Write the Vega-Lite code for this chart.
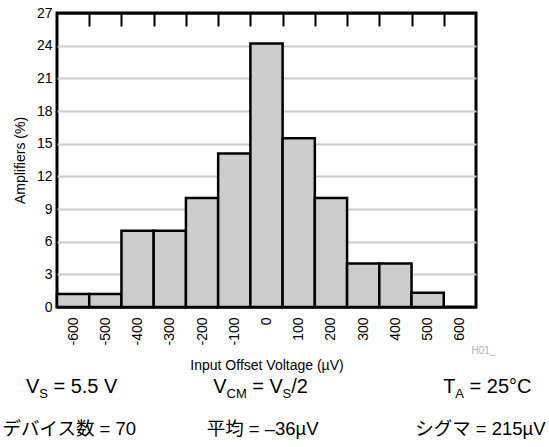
{
  "$schema": "https://vega.github.io/schema/vega-lite/v6.json",
  "width": 419,
  "height": 294,
  "autosize": {"type": "none"},
  "padding": {"left": 57, "top": 13, "right": 73, "bottom": 140},
  "resolve": {"axis": {"x": "independent", "y": "independent"}},
  "config": {
    "font": "Liberation Sans",
    "view": {"stroke": "black", "strokeWidth": 3},
    "axis": {"labelColor": "black", "titleColor": "black", "titleFontWeight": "normal", "labelFont": "Liberation Sans", "titleFont": "Liberation Sans"}
  },
  "datasets": {
    "bins": [
      {"lo": -650, "hi": -550, "pct": 1.2},
      {"lo": -550, "hi": -450, "pct": 1.2},
      {"lo": -450, "hi": -350, "pct": 7.0},
      {"lo": -350, "hi": -250, "pct": 7.0},
      {"lo": -250, "hi": -150, "pct": 10.0},
      {"lo": -150, "hi": -50, "pct": 14.1},
      {"lo": -50, "hi": 50, "pct": 24.2},
      {"lo": 50, "hi": 150, "pct": 15.5},
      {"lo": 150, "hi": 250, "pct": 10.0},
      {"lo": 250, "hi": 350, "pct": 4.0},
      {"lo": 350, "hi": 450, "pct": 4.0},
      {"lo": 450, "hi": 550, "pct": 1.3}
    ],
    "notes": [
      {"id": "vs_V", "t": "V"},
      {"id": "vs_S", "t": "S"},
      {"id": "vs_rest", "t": "= 5.5 V"},
      {"id": "cm_V", "t": "V"},
      {"id": "cm_CM", "t": "CM"},
      {"id": "cm_eq", "t": "= V"},
      {"id": "cm_S", "t": "S"},
      {"id": "cm_2", "t": "/2"},
      {"id": "ta_T", "t": "T"},
      {"id": "ta_A", "t": "A"},
      {"id": "ta_rest", "t": "= 25°C"},
      {"id": "n", "t": "デバイス数 = 70"},
      {"id": "mean", "t": "平均 = –36µV"},
      {"id": "sigma", "t": "シグマ = 215µV"},
      {"id": "code", "t": "H01_"}
    ]
  },
  "layer": [
    {
      "data": {"name": "bins"},
      "mark": {"type": "rect", "fill": "#cccccc", "stroke": "black", "strokeWidth": 2.5},
      "encoding": {
        "x": {
          "field": "lo", "type": "quantitative",
          "scale": {"domain": [-650, 650], "nice": false, "zero": false},
          "axis": {
            "orient": "bottom",
            "values": [-600, -500, -400, -300, -200, -100, 0, 100, 200, 300, 400, 500, 600],
            "labelExpr": "datum.value + ''",
            "labelAngle": -90,
            "labelFontSize": 14,
            "labelPadding": 10,
            "ticks": false,
            "tickSize": 0,
            "domain": false,
            "grid": false,
            "title": "Input Offset Voltage (µV)",
            "titleFontSize": 14,
            "titlePadding": 13
          }
        },
        "x2": {"field": "hi"},
        "y": {
          "field": "pct", "type": "quantitative",
          "scale": {"domain": [0, 27], "nice": false, "zero": false},
          "axis": {
            "orient": "left",
            "values": [0, 3, 6, 9, 12, 15, 18, 21, 24, 27],
            "grid": true,
            "gridColor": {"condition": {"test": "datum.value == 0 || datum.value == 27", "value": "black"}, "value": "#cccccc"},
            "gridWidth": 2,
            "ticks": false,
            "tickSize": 0,
            "domain": false,
            "labelFontSize": 14,
            "labelPadding": 5,
            "title": "Amplifiers (%)",
            "titleFontSize": 14,
            "titlePadding": 9
          }
        },
        "y2": {"datum": 0}
      }
    },
    {
      "data": {"name": "bins"},
      "mark": {"type": "point", "opacity": 0},
      "encoding": {
        "x": {
          "field": "hi", "type": "quantitative",
          "scale": {"domain": [-650, 650], "nice": false, "zero": false},
          "axis": {
            "orient": "top",
            "values": [-550, -450, -350, -250, -150, -50, 50, 150, 250, 350, 450, 550],
            "labels": false,
            "domain": false,
            "grid": false,
            "ticks": true,
            "tickSize": -13,
            "tickWidth": 2,
            "tickColor": "black",
            "title": null
          }
        }
      }
    },
    {
      "data": {"name": "notes"}, "transform": [{"filter": "datum.id == 'vs_V'"}],
      "mark": {"type": "text", "fontSize": 20, "align": "right", "baseline": "alphabetic"},
      "encoding": {"x": {"datum": -705, "axis": null, "scale": {"domain": [-650, 650]}}, "y": {"datum": -7.9, "axis": null, "scale": {"domain": [0, 27]}}, "text": {"field": "t"}}
    },
    {
      "data": {"name": "notes"}, "transform": [{"filter": "datum.id == 'vs_S'"}],
      "mark": {"type": "text", "fontSize": 13, "align": "left", "baseline": "alphabetic"},
      "encoding": {"x": {"datum": -705, "axis": null, "scale": {"domain": [-650, 650]}}, "y": {"datum": -8.35, "axis": null, "scale": {"domain": [0, 27]}}, "text": {"field": "t"}}
    },
    {
      "data": {"name": "notes"}, "transform": [{"filter": "datum.id == 'vs_rest'"}],
      "mark": {"type": "text", "fontSize": 20, "align": "left", "baseline": "alphabetic"},
      "encoding": {"x": {"datum": -661, "axis": null, "scale": {"domain": [-650, 650]}}, "y": {"datum": -7.9, "axis": null, "scale": {"domain": [0, 27]}}, "text": {"field": "t"}}
    },
    {
      "data": {"name": "notes"}, "transform": [{"filter": "datum.id == 'cm_V'"}],
      "mark": {"type": "text", "fontSize": 20, "align": "right", "baseline": "alphabetic"},
      "encoding": {"x": {"datum": -124, "axis": null, "scale": {"domain": [-650, 650]}}, "y": {"datum": -7.9, "axis": null, "scale": {"domain": [0, 27]}}, "text": {"field": "t"}}
    },
    {
      "data": {"name": "notes"}, "transform": [{"filter": "datum.id == 'cm_CM'"}],
      "mark": {"type": "text", "fontSize": 13, "align": "left", "baseline": "alphabetic"},
      "encoding": {"x": {"datum": -124, "axis": null, "scale": {"domain": [-650, 650]}}, "y": {"datum": -8.35, "axis": null, "scale": {"domain": [0, 27]}}, "text": {"field": "t"}}
    },
    {
      "data": {"name": "notes"}, "transform": [{"filter": "datum.id == 'cm_eq'"}],
      "mark": {"type": "text", "fontSize": 20, "align": "left", "baseline": "alphabetic"},
      "encoding": {"x": {"datum": -44, "axis": null, "scale": {"domain": [-650, 650]}}, "y": {"datum": -7.9, "axis": null, "scale": {"domain": [0, 27]}}, "text": {"field": "t"}}
    },
    {
      "data": {"name": "notes"}, "transform": [{"filter": "datum.id == 'cm_S'"}],
      "mark": {"type": "text", "fontSize": 13, "align": "left", "baseline": "alphabetic"},
      "encoding": {"x": {"datum": 50, "axis": null, "scale": {"domain": [-650, 650]}}, "y": {"datum": -8.35, "axis": null, "scale": {"domain": [0, 27]}}, "text": {"field": "t"}}
    },
    {
      "data": {"name": "notes"}, "transform": [{"filter": "datum.id == 'cm_2'"}],
      "mark": {"type": "text", "fontSize": 20, "align": "left", "baseline": "alphabetic"},
      "encoding": {"x": {"datum": 77, "axis": null, "scale": {"domain": [-650, 650]}}, "y": {"datum": -7.9, "axis": null, "scale": {"domain": [0, 27]}}, "text": {"field": "t"}}
    },
    {
      "data": {"name": "notes"}, "transform": [{"filter": "datum.id == 'ta_T'"}],
      "mark": {"type": "text", "fontSize": 20, "align": "right", "baseline": "alphabetic"},
      "encoding": {"x": {"datum": 586, "axis": null, "scale": {"domain": [-650, 650]}}, "y": {"datum": -7.9, "axis": null, "scale": {"domain": [0, 27]}}, "text": {"field": "t"}}
    },
    {
      "data": {"name": "notes"}, "transform": [{"filter": "datum.id == 'ta_A'"}],
      "mark": {"type": "text", "fontSize": 13, "align": "left", "baseline": "alphabetic"},
      "encoding": {"x": {"datum": 586, "axis": null, "scale": {"domain": [-650, 650]}}, "y": {"datum": -8.35, "axis": null, "scale": {"domain": [0, 27]}}, "text": {"field": "t"}}
    },
    {
      "data": {"name": "notes"}, "transform": [{"filter": "datum.id == 'ta_rest'"}],
      "mark": {"type": "text", "fontSize": 20, "align": "left", "baseline": "alphabetic"},
      "encoding": {"x": {"datum": 630, "axis": null, "scale": {"domain": [-650, 650]}}, "y": {"datum": -7.9, "axis": null, "scale": {"domain": [0, 27]}}, "text": {"field": "t"}}
    },
    {
      "data": {"name": "notes"}, "transform": [{"filter": "datum.id == 'n'"}],
      "mark": {"type": "text", "fontSize": 18.5, "align": "center", "baseline": "alphabetic", "font": "Liberation Sans, Noto Sans CJK JP"},
      "encoding": {"x": {"datum": -612, "axis": null, "scale": {"domain": [-650, 650]}}, "y": {"datum": -11.75, "axis": null, "scale": {"domain": [0, 27]}}, "text": {"field": "t"}}
    },
    {
      "data": {"name": "notes"}, "transform": [{"filter": "datum.id == 'mean'"}],
      "mark": {"type": "text", "fontSize": 18.5, "align": "center", "baseline": "alphabetic", "font": "Liberation Sans, Noto Sans CJK JP"},
      "encoding": {"x": {"datum": -12, "axis": null, "scale": {"domain": [-650, 650]}}, "y": {"datum": -11.75, "axis": null, "scale": {"domain": [0, 27]}}, "text": {"field": "t"}}
    },
    {
      "data": {"name": "notes"}, "transform": [{"filter": "datum.id == 'sigma'"}],
      "mark": {"type": "text", "fontSize": 18.5, "align": "right", "baseline": "alphabetic", "font": "Liberation Sans, Noto Sans CJK JP"},
      "encoding": {"x": {"datum": 866, "axis": null, "scale": {"domain": [-650, 650]}}, "y": {"datum": -11.75, "axis": null, "scale": {"domain": [0, 27]}}, "text": {"field": "t"}}
    },
    {
      "data": {"name": "notes"}, "transform": [{"filter": "datum.id == 'code'"}],
      "mark": {"type": "text", "fontSize": 10, "align": "left", "baseline": "alphabetic", "color": "#b0b0b0"},
      "encoding": {"x": {"datum": 636, "axis": null, "scale": {"domain": [-650, 650]}}, "y": {"datum": -4.3, "axis": null, "scale": {"domain": [0, 27]}}, "text": {"field": "t"}}
    }
  ]
}
